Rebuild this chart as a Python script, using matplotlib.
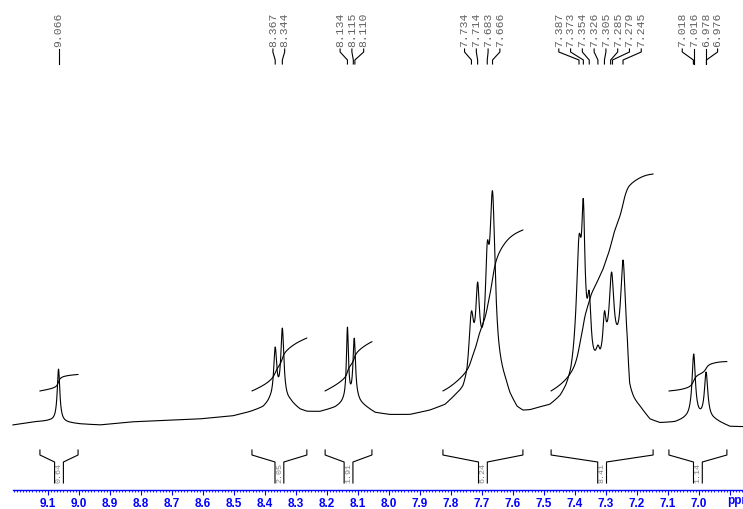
import numpy as np
import matplotlib
matplotlib.use("Agg")
import matplotlib.pyplot as plt

# ---------------- data ----------------
# peak labels (ppm) shown at the top, grouped by multiplet
label_groups = [
    [9.066],
    [8.367, 8.344],
    [8.134, 8.115, 8.110],
    [7.734, 7.714, 7.683, 7.666],
    [7.387, 7.373, 7.354, 7.326, 7.305, 7.285, 7.279, 7.245],
    [7.018, 7.016, 6.978, 6.976],
]

# resolved lines of the spectrum: position (ppm), observed apex height, half width (ppm)
line_ppm = [9.066, 8.367, 8.344, 8.134, 8.112, 7.734, 7.714, 7.683, 7.666,
            7.387, 7.373, 7.354, 7.326, 7.305, 7.282, 7.245, 7.017, 6.977]
line_height = [56, 78, 97, 98, 87, 114, 143, 183, 234,
               190, 226, 134, 80, 114, 153, 165, 71, 53]
line_hwhm = [0.005, 0.006, 0.006, 0.004, 0.005, 0.008, 0.007, 0.007, 0.010,
             0.010, 0.006, 0.007, 0.008, 0.006, 0.009, 0.009, 0.0065, 0.0065]

# slowly varying baseline / unresolved foot (ppm, level)
base_ppm = [9.213, 9.148, 9.094, 8.997, 8.932, 8.835, 8.610, 8.503, 8.448, 8.406,
            8.384, 8.319, 8.287, 8.265, 8.223, 8.174, 8.148, 8.100, 8.077, 8.045,
            7.997, 7.932, 7.868, 7.819, 7.787, 7.761, 7.748, 7.739, 7.726, 7.674,
            7.658, 7.648, 7.635, 7.623, 7.610, 7.587, 7.568, 7.545, 7.513, 7.481,
            7.448, 7.429, 7.413, 7.400, 7.387, 7.365, 7.345, 7.319, 7.297, 7.281,
            7.242, 7.232, 7.224, 7.210, 7.190, 7.158, 7.126, 7.077, 7.045, 7.029,
            6.965, 6.948, 6.932, 6.900, 6.858]
base_level = [0, 3, 4, 1, 0, 3, 6, 9, 13, 17,
              22, 22, 15, 13, 13, 17, 21, 22, 18, 12,
              10, 10, 14, 19, 27, 32, 40, 55, 55, 58,
              55, 48, 42, 36, 26, 15, 12, 13, 16, 18,
              25, 32, 40, 52, 60, 60, 50, 50, 62, 65,
              65, 58, 25, 20, 15, 4, 1, 2, 5, 6,
              5, 4, 2, -2, -2]

# integration regions
integral_start = [9.126, 8.442, 8.206, 7.826, 7.477, 7.097]
integral_end = [9.003, 8.265, 8.055, 7.568, 7.148, 6.910]
integral_values = [0.64, 2.05, 1.91, 6.24, 8.41, 1.14]

major_ticks = [9.1, 9.0, 8.9, 8.8, 8.7, 8.6, 8.5, 8.4, 8.3, 8.2, 8.1,
               8.0, 7.9, 7.8, 7.7, 7.6, 7.5, 7.4, 7.3, 7.2, 7.1, 7.0, 6.9]
major_labels = ["9.1", "9.0", "8.9", "8.8", "8.7", "8.6", "8.5", "8.4", "8.3", "8.2", "8.1",
                "8.0", "7.9", "7.8", "7.7", "7.6", "7.5", "7.4", "7.3", "7.2", "7.1", "7.0", ""]

# ---------------- figure ----------------
fig = plt.figure(figsize=(7.43, 5.10), dpi=100)
ax = fig.add_axes([0, 0, 1, 1])
ax.set_xlim(9.2548, 6.858)
ax.set_ylim(-84, 426)

x = np.linspace(9.213, 6.858, 4000)

def lor(xx, x0, g):
    return 1.0 / (1.0 + ((xx - x0) / g) ** 2)

bp = np.array(base_ppm)[::-1]
bl = np.array(base_level, dtype=float)[::-1]
baseline = np.interp(x, bp, bl)

lp = np.array(line_ppm)
lw = np.array(line_hwhm)
M = lor(lp[:, None], lp[None, :], lw[None, :])
target = np.array(line_height, dtype=float) - np.interp(lp, bp, bl)
amp = np.linalg.solve(M, target)

spec = baseline.copy()
for a, p, g in zip(amp, lp, lw):
    spec += a * lor(x, p, g)

ax.plot(x, spec, color="black", lw=0.8)

# integrals
unit = 25.8
start_level = 34
for s, e, v in zip(integral_start, integral_end, integral_values):
    m = (x <= s) & (x >= e)
    xs = x[m]
    ys = spec[m]
    cum = np.cumsum(ys)
    cum = cum / cum[-1] * v * unit + start_level
    ax.plot(xs, cum, color="black", lw=0.8)

    # bracket under the integral
    c = (s + e) / 2
    g = 0.0142
    ax.plot([s, s, c + g, c + g], [-25, -30, -37, -58], color="black", lw=0.8)
    ax.plot([e, e, c - g, c - g], [-25, -30, -37, -58], color="black", lw=0.8)
    ax.text(c, -47.5, f"{v:.2f}", rotation=90, ha="center", va="center",
            fontsize=6, color="#808080", family="Liberation Mono")

# peak labels
spacing = 0.038
for grp in label_groups:
    n = len(grp)
    mean = np.mean(grp)
    for i, p in enumerate(grp):
        xl = p if n == 1 else mean + ((n - 1) / 2 - i) * spacing
        ax.text(xl, 379, f"{p:.3f}", rotation=90, ha="center", va="bottom",
                fontsize=8.2, color="#606060", family="Liberation Mono")
        ax.plot([xl, xl, p, p], [376, 373, 365, 361], color="black", lw=0.8)

# axis
for sp in ["top", "left", "right"]:
    ax.spines[sp].set_visible(False)
ax.spines["bottom"].set_position(("data", -64.7))
ax.spines["bottom"].set_bounds(6.858, 9.213)
ax.spines["bottom"].set_color("blue")
ax.spines["bottom"].set_linewidth(1.0)
ax.set_yticks([])
ax.set_xticks(major_ticks)
ax.set_xticklabels(major_labels)
ax.set_xticks(np.round(np.arange(9.21, 6.855, -0.01), 2), minor=True)
ax.tick_params(axis="x", which="major", direction="out", length=3.5, width=0.8,
               color="blue", labelcolor="blue", labelsize=8.5, pad=2)
ax.tick_params(axis="x", which="minor", direction="out", length=1.6, width=0.6,
               color="blue")
for lab in ax.get_xticklabels():
    lab.set_fontweight("bold")
    lab.set_family("Liberation Sans")
ax.text(6.9097, -75, "ppm", ha="left", va="center", color="blue",
        fontsize=8.5, fontweight="bold", family="Liberation Sans")

fig.savefig("out.png", dpi=100)
